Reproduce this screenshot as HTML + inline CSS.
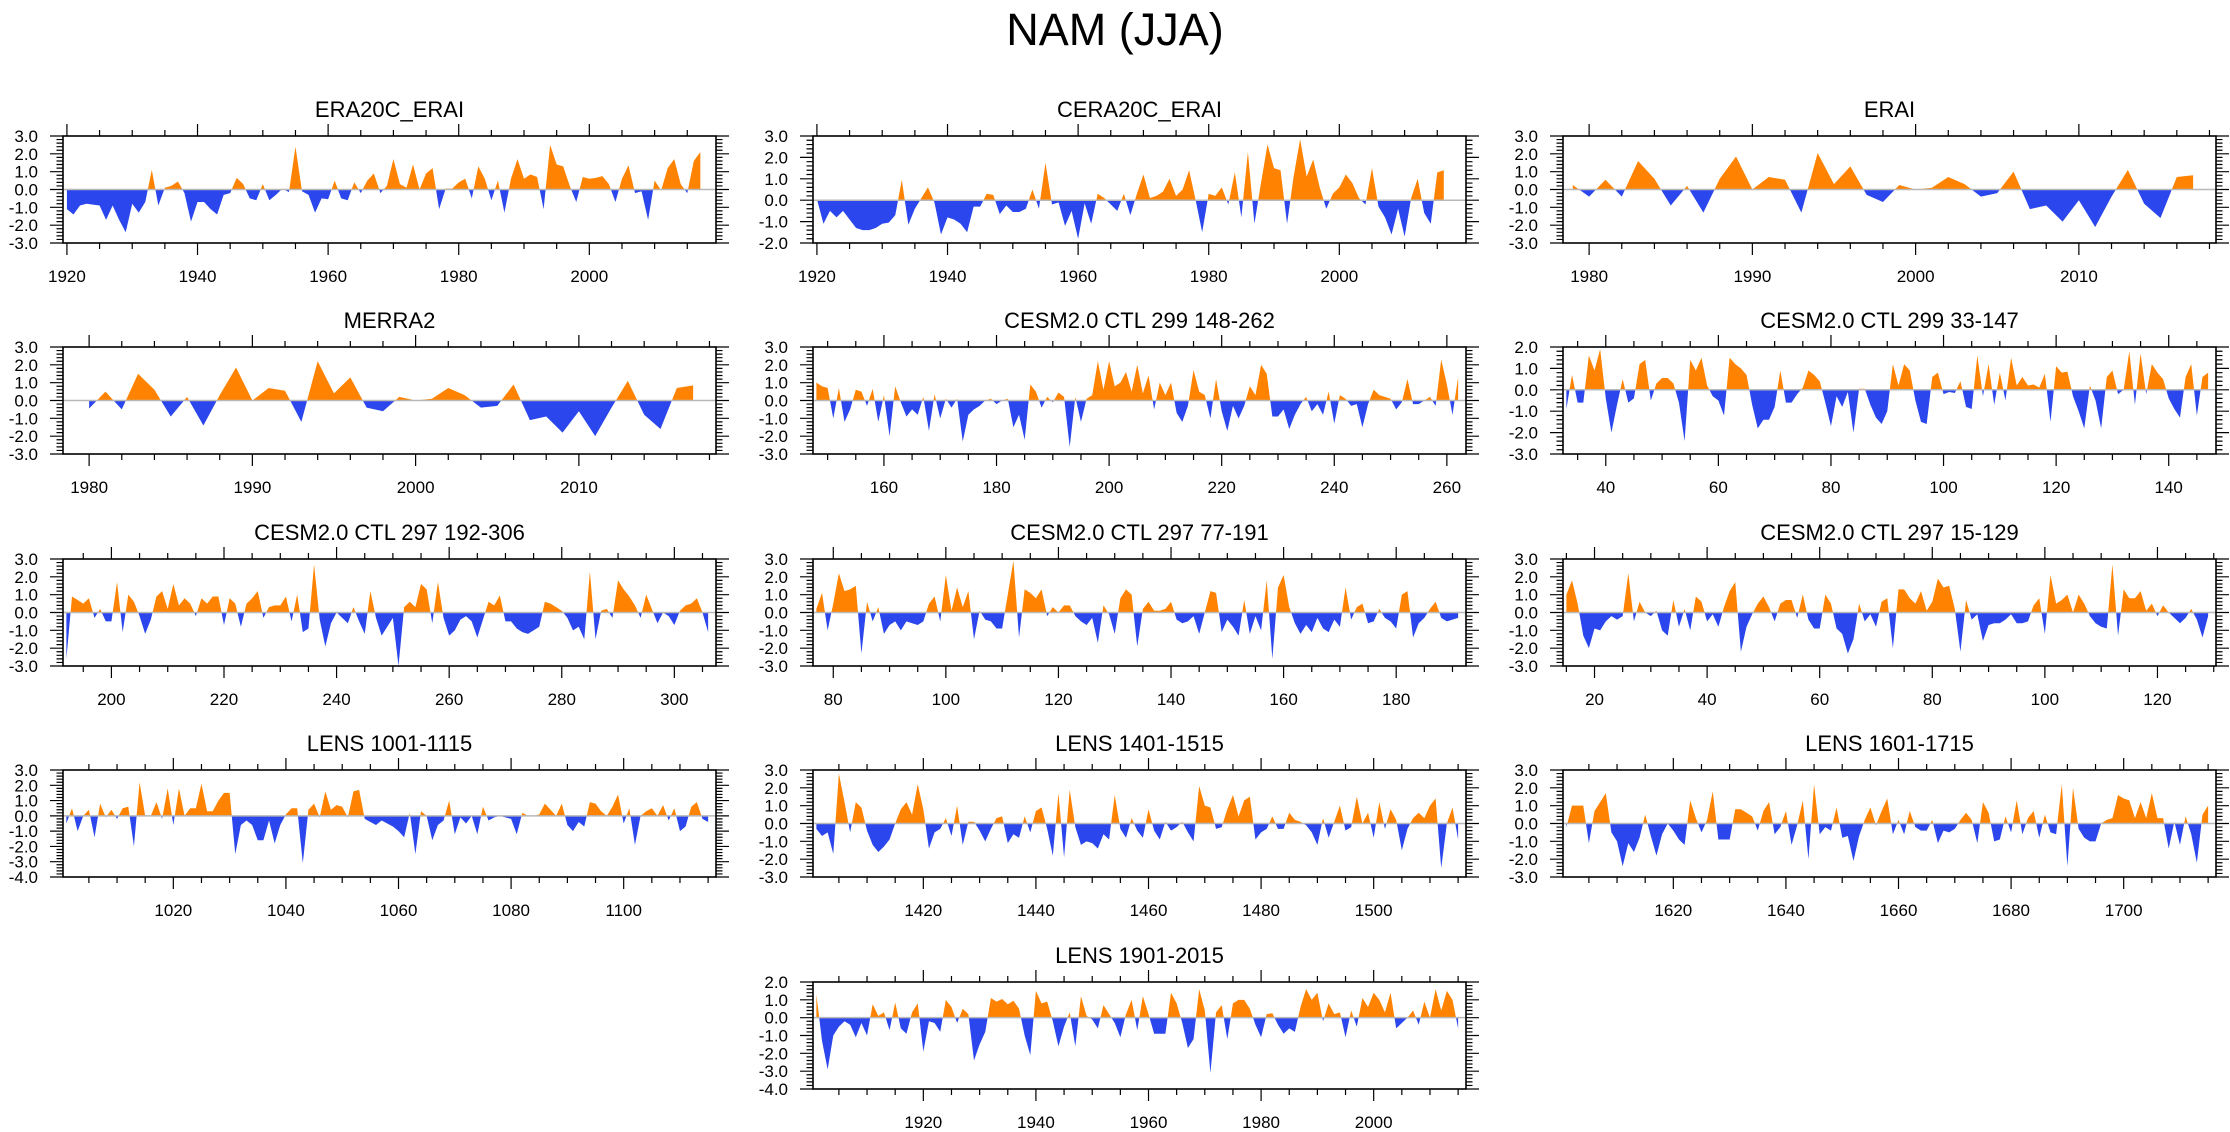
<!DOCTYPE html>
<html><head><meta charset="utf-8">
<style>
html,body{margin:0;padding:0;background:#fff;}
svg{display:block;font-family:"Liberation Sans",Arial,sans-serif;}
</style></head>
<body>
<svg id="chart" width="2230" height="1132" viewBox="0 0 2230 1132" xmlns="http://www.w3.org/2000/svg">
<rect width="2230" height="1132" fill="#fff"/>
<text x="1115" y="45" font-size="45" text-anchor="middle">NAM (JJA)</text>
</svg>
<script>
const era20cValues=[-1.1,-1.4,-0.9,-0.8,-0.85,-0.9,-1.7,-0.9,-1.7,-2.4,-0.8,-1.3,-0.7,1.1,-0.9,0.1,0.2,0.45,-0.2,-1.8,-0.7,-0.7,-1.1,-1.4,-0.3,-0.2,0.65,0.3,-0.5,-0.6,0.3,-0.6,-0.3,0.05,-0.15,2.4,-0.1,-0.3,-1.3,-0.5,-0.55,0.5,-0.5,-0.6,0.4,-0.2,0.5,0.9,-0.2,0.2,1.7,0.3,0.1,1.4,0.0,0.9,1.2,-1.1,0.05,0.05,0.4,0.6,-0.5,1.3,0.6,-0.6,0.5,-1.3,0.6,1.7,0.6,0.85,0.7,-1.1,2.5,1.4,1.3,0.2,-0.7,0.7,0.6,0.65,0.75,0.3,-0.7,0.6,1.35,-0.2,-0.1,-1.7,0.5,-0.05,1.2,1.7,0.3,-0.2,1.6,2.1];
const cera20cValues=[0.05,-1.1,-0.5,-0.8,-0.5,-0.9,-1.3,-1.4,-1.4,-1.3,-1.1,-1.05,-0.7,0.95,-1.15,-0.4,0.1,0.6,-0.1,-1.6,-0.8,-0.9,-1.1,-1.5,-0.3,-0.3,0.3,0.25,-0.65,-0.25,-0.55,-0.55,-0.4,0.5,-0.4,1.75,-0.2,-0.1,-1.2,-0.5,-1.8,-0.15,-1.1,0.3,0.1,-0.2,-0.5,0.3,-0.7,0.3,1.2,0.1,0.2,0.4,1.0,0.2,0.5,1.4,0.0,-1.5,0.3,0.2,0.6,-0.2,1.3,-0.8,2.25,-1.1,0.8,2.6,1.5,1.4,-1.1,1.1,2.85,1.1,1.9,0.6,-0.4,0.3,0.6,1.2,0.8,0.1,-0.2,1.5,-0.3,-0.8,-1.6,-0.4,-1.7,0.1,1.0,-0.6,-1.1,1.3,1.4];
const eraiValues=[0.25,-0.4,0.55,-0.4,1.6,0.6,-0.9,0.2,-1.3,0.6,1.85,0.0,0.7,0.55,-1.3,2.05,0.3,1.3,-0.3,-0.7,0.25,0.0,0.1,0.7,0.3,-0.4,-0.2,1.0,-1.1,-0.9,-1.8,-0.6,-2.1,-0.4,1.1,-0.8,-1.6,0.7,0.8];
const merra2Values=[-0.45,0.5,-0.5,1.5,0.6,-0.9,0.2,-1.4,0.3,1.85,0.0,0.7,0.55,-1.2,2.2,0.4,1.3,-0.4,-0.6,0.2,0.0,0.1,0.7,0.3,-0.4,-0.3,0.9,-1.1,-0.9,-1.8,-0.6,-2.0,-0.4,1.1,-0.8,-1.6,0.7,0.85];
const ctl299aValues=[1.0,0.8,0.7,-1.0,0.7,-1.2,-0.5,0.6,0.5,-0.3,0.65,-1.2,0.3,-2.0,0.8,-0.1,-0.9,-0.5,-0.8,0.2,-1.7,0.35,-1.0,0.1,-0.4,0.1,-2.3,-0.8,-0.5,-0.3,0.0,0.1,-0.2,0.0,0.1,-1.5,-0.8,-2.2,0.9,0.5,-0.4,0.2,-0.1,0.45,0.2,-2.6,0.2,-1.2,0.1,0.3,2.2,0.6,2.2,0.8,1.0,1.6,0.5,2.0,0.4,1.4,-0.5,1.0,0.3,1.0,-0.7,-1.2,-0.3,1.7,0.5,0.3,-1.0,1.2,-0.6,-1.7,-0.3,-1.0,-0.3,0.8,0.3,2.0,1.5,-0.9,-0.9,-0.5,-1.6,-0.8,-0.2,0.2,-0.6,-0.2,-0.8,0.5,-1.3,0.3,0.1,-0.3,-0.2,-1.5,-0.2,0.6,0.3,0.2,0.1,-0.5,-0.1,1.2,-0.2,-0.2,0.0,0.2,-0.3,2.3,0.9,-0.8,1.3];
const ctl299bValues=[-0.9,0.7,-0.6,-0.6,1.6,0.9,1.9,-0.4,-2.0,-0.7,0.5,-0.6,-0.4,1.2,1.4,-0.5,0.3,0.55,0.55,0.3,-0.6,-2.4,1.4,0.9,1.5,0.2,-0.3,-0.5,-1.2,1.5,1.2,1.0,0.7,-0.7,-1.8,-1.4,-1.4,-0.8,0.9,-0.6,-0.6,-0.2,0.1,0.9,0.7,0.4,-0.6,-1.7,-0.3,-0.8,-0.1,-2.0,0.05,0.05,-0.7,-1.3,-1.6,-1.0,1.2,0.2,1.2,0.9,-0.5,-1.5,-1.6,0.6,0.8,-0.2,-0.1,-0.15,0.4,-0.8,-0.9,1.6,-0.3,1.2,-0.7,0.8,-0.5,1.5,0.2,0.6,0.2,0.25,0.1,0.75,-1.5,1.1,0.8,0.85,-0.3,-1.0,-1.8,0.2,-0.5,-1.8,0.6,0.9,-0.2,0.0,1.8,-0.7,1.7,-0.2,1.2,0.8,0.5,-0.4,-0.9,-1.3,0.6,1.2,-1.2,0.6,0.8];
const ctl297aValues=[-2.6,0.9,0.7,0.5,0.8,-0.3,0.2,-0.5,-0.5,1.7,-1.1,1.0,0.6,-0.2,-1.2,-0.4,0.9,1.2,0.2,1.6,0.4,0.8,0.5,-0.2,0.8,0.5,0.9,0.9,-0.7,0.8,0.5,-0.8,0.5,0.8,1.2,-0.3,0.3,0.4,0.4,0.9,-0.5,1.0,-1.1,-0.9,2.7,-0.4,-1.9,-0.6,0.0,-0.3,-0.6,0.3,-0.5,-1.2,1.2,-0.3,-1.3,-0.8,-0.3,-3.0,0.3,0.6,0.3,1.6,1.3,-0.6,1.7,-0.3,-1.3,-1.0,-0.4,-0.2,-0.5,-1.4,-0.4,0.6,0.4,0.95,-0.5,-0.5,-0.9,-1.1,-1.2,-1.0,-0.8,0.6,0.5,0.3,0.1,-0.3,-1.0,-0.8,-1.5,2.3,-1.5,0.1,0.2,-0.3,1.8,1.3,0.9,0.4,-0.3,1.0,0.2,-0.6,0.0,-0.2,-0.7,0.1,0.4,0.5,0.8,0.0,-1.1];
const ctl297bValues=[0.2,1.1,-1.0,0.5,2.2,1.2,1.3,1.5,-2.3,0.6,-0.5,0.3,-1.2,-0.7,-0.5,-1.0,-0.5,-0.6,-0.7,-0.5,0.5,0.9,-0.5,2.1,0.1,1.4,0.3,1.2,-1.5,0.1,-0.4,-0.5,-0.9,-0.9,1.0,2.9,-1.4,1.3,1.1,0.8,1.3,-0.2,0.3,0.0,0.4,0.4,-0.2,-0.5,-0.7,-0.3,-1.7,0.4,-0.1,-1.2,0.8,1.3,1.0,-1.9,0.2,0.6,0.1,0.1,0.2,0.6,-0.4,-0.6,-0.5,-0.2,-1.2,0.0,1.2,1.1,-1.1,-0.4,-0.8,-1.3,0.7,-1.2,-0.2,-1.0,1.8,-2.6,1.4,2.1,0.3,-0.6,-1.2,-0.7,-1.1,-0.3,-0.9,-1.1,-0.4,-0.8,1.4,-0.4,0.3,0.5,-0.6,-0.5,0.2,-0.3,-0.5,-0.9,1.0,1.2,-1.4,-0.6,-0.3,0.2,0.6,-0.3,-0.5,-0.4,-0.3];
const ctl297cValues=[1.0,1.8,0.5,-1.3,-2.0,-0.9,-1.0,-0.5,-0.2,-0.4,-0.2,2.2,-0.5,0.6,0.0,-0.2,0.1,-1.0,-1.3,0.7,-0.8,0.2,-1.0,0.9,0.6,-0.5,-0.1,-0.8,0.3,1.2,1.7,-2.2,-0.8,-0.1,0.5,0.9,0.3,-0.5,0.5,0.7,0.7,-0.3,1.0,-0.4,-0.9,-0.9,1.0,0.5,-0.9,-1.2,-2.3,-1.5,0.5,-0.5,-0.1,-0.8,0.6,0.8,-2.0,1.3,1.3,0.8,0.5,1.2,0.1,0.6,1.9,1.4,1.5,0.2,-2.2,0.7,-0.4,-0.1,-1.6,-0.7,-0.6,-0.6,-0.4,-0.1,-0.6,-0.6,-0.5,0.4,0.8,-1.2,2.1,0.5,0.7,1.0,0.0,1.0,0.5,-0.2,-0.6,-0.8,-0.9,2.7,-1.3,1.3,0.8,0.8,1.2,0.1,0.5,-0.2,0.4,0.0,-0.3,-0.6,-0.3,0.2,-0.4,-1.4,-0.2];
const lens1001Values=[-0.5,0.5,-1.0,0.0,0.4,-1.4,0.8,-0.1,0.4,-0.2,0.5,0.6,-2.0,2.2,0.0,0.0,0.9,-0.2,1.8,-0.6,1.8,0.0,0.5,0.5,2.1,0.3,0.3,1.0,1.5,1.5,-2.5,-0.6,-0.3,-0.6,-1.6,-1.6,-0.3,-1.8,-0.6,0.1,0.5,0.5,-3.1,0.4,0.8,-0.1,1.6,0.4,0.7,0.6,-0.1,1.6,1.7,-0.2,-0.4,-0.6,-0.3,-0.5,-0.7,-1.0,-1.4,0.2,-2.5,0.3,0.0,-1.6,-0.6,-0.3,1.0,-1.2,-0.1,-0.5,0.0,-1.2,0.6,-0.3,-0.1,0.0,-0.1,-0.2,-1.2,0.2,0.0,0.0,0.1,0.8,0.4,0.0,0.8,-0.6,-1.0,-0.4,-0.7,0.9,0.8,0.3,0.0,0.6,1.4,-0.5,0.5,-1.9,0.0,0.3,0.5,0.0,0.7,-0.3,0.5,-1.0,-0.7,0.6,0.9,-0.2,-0.4];
const lens1401Values=[-0.3,-0.7,-0.5,-1.7,2.8,1.2,-0.5,1.2,0.9,-0.4,-1.2,-1.6,-1.3,-0.9,0.0,0.8,1.2,0.5,2.2,0.8,-1.4,-0.5,-0.3,0.3,-0.7,1.0,-1.2,0.1,0.1,-0.4,-1.0,-0.3,0.3,0.4,-1.1,-0.6,-0.8,0.4,-0.5,0.7,0.9,-0.3,-1.8,1.7,-1.9,1.9,-0.2,-1.2,-1.0,-1.1,-1.4,-0.6,-0.9,1.6,-0.3,-0.8,0.3,-0.4,-0.8,0.8,-0.4,-0.9,0.1,-0.4,-0.2,0.1,-0.5,-1.0,2.1,1.0,0.9,-0.3,-0.2,0.8,1.6,0.4,1.3,1.5,-0.9,-0.5,-0.3,0.4,-0.3,-0.3,0.6,0.2,0.1,-0.1,-0.5,-1.2,0.3,-0.8,0.1,1.0,-0.4,-0.2,1.5,0.0,0.6,-0.8,1.2,-0.3,0.8,0.2,-1.5,-0.3,0.3,0.6,0.3,1.0,1.4,-2.5,0.0,0.9,-0.9];
const lens1601Values=[-0.2,1.0,1.0,1.0,-1.1,0.7,1.2,1.7,-0.5,-1.0,-2.4,-1.1,-1.6,-0.8,0.5,-0.7,-1.8,-0.6,0.0,-0.4,-0.9,-1.2,1.3,0.3,-0.5,0.2,1.8,-0.9,-0.9,-0.9,0.8,0.8,0.6,0.4,-0.4,0.7,1.2,-0.6,-0.2,0.7,-1.2,-0.1,1.3,-2.0,2.2,-0.6,-0.2,-0.4,0.9,-0.8,-0.7,-2.1,-0.7,0.2,0.9,-0.1,0.7,1.4,-0.6,0.2,-0.6,0.7,-0.2,-0.4,-0.4,0.2,-1.1,-0.4,-0.5,-0.3,0.2,0.6,0.2,-1.1,1.2,0.6,-1.0,-0.9,0.4,-0.5,1.3,-0.6,0.3,0.7,-0.8,0.5,-0.5,-0.6,2.2,-2.4,2.0,-0.3,-0.8,-1.0,-1.0,0.0,0.2,0.3,1.6,1.4,1.3,0.3,1.2,0.3,1.7,0.3,0.3,-1.4,0.1,-1.2,0.4,-0.6,-2.2,0.5,1.0];
const lens1901Values=[1.3,-1.3,-2.9,-1.0,-0.5,-0.2,-0.4,-1.1,-0.3,-1.0,0.75,0.1,0.3,-0.7,0.85,-0.6,-0.9,0.3,0.8,-1.9,-0.2,-0.3,-0.8,1.0,0.6,-0.3,0.5,0.2,-2.4,-1.5,-0.8,1.1,0.9,1.05,0.75,0.95,0.5,-1.0,-2.1,1.5,0.8,0.9,-0.2,-1.6,-0.5,0.3,-1.6,1.2,0.1,-0.1,-0.6,0.7,0.2,-0.3,-1.1,0.2,1.0,-0.7,1.2,0.2,-0.9,-0.9,-0.9,1.4,0.8,-0.3,-1.7,-1.2,1.6,0.4,-3.1,0.3,0.7,-1.2,0.8,1.0,1.0,0.5,-0.4,-1.1,0.2,0.25,-0.4,-0.9,-0.6,-0.8,0.6,1.6,1.0,1.4,-0.2,0.8,0.2,0.3,-1.1,0.4,-0.5,1.1,0.6,1.4,1.0,0.3,1.4,-0.6,-0.3,0.0,0.4,-0.4,0.9,0.0,1.6,0.4,1.5,1.0,-0.6];

const panelTitles=["ERA20C_ERAI","CERA20C_ERAI","ERAI","MERRA2","CESM2.0 CTL 299 148-262","CESM2.0 CTL 299 33-147","CESM2.0 CTL 297 192-306","CESM2.0 CTL 297 77-191","CESM2.0 CTL 297 15-129","LENS 1001-1115","LENS 1401-1515","LENS 1601-1715","LENS 1901-2015"];
const panelSeries=[era20cValues,cera20cValues,eraiValues,merra2Values,ctl299aValues,ctl299bValues,ctl297aValues,ctl297bValues,ctl297cValues,lens1001Values,lens1401Values,lens1601Values,lens1901Values];
const panelStartYears=[1920,1920,1979,1980,148,33,192,77,15,1001,1401,1601,1901];
const panelYMin=[-3,-2,-3,-3,-3,-3,-3,-3,-3,-4,-3,-3,-4];
const panelYMax=[3,3,3,3,3,2,3,3,3,3,3,3,2];
const panelXMin=[1919.4,1919.4,1978.4,1978.4,147.4,32.4,191.4,76.4,14.4,1000.4,1400.4,1600.4,1900.4];
const panelXMax=[2019.4,2019.4,2018.4,2018.4,263.4,148.4,307.4,192.4,130.4,1116.4,1516.4,1716.4,2016.4];
const panelMajorStep=[20,20,10,10,20,20,20,20,20,20,20,20,20];
const panelMinorStep=[5,5,2,2,5,5,5,5,5,5,5,5,5];

const NS="http://www.w3.org/2000/svg";
const svg=document.getElementById('chart');
const colLeft=[63,813,1563], rowTop=[136,347,559,770,982];
const W=653,H=107;
const ORANGE="#ff8300", BLUE="#2a46ec";
function mk(tag,attrs,parent){const e=document.createElementNS(NS,tag);for(const k in attrs)e.setAttribute(k,attrs[k]);(parent||svg).appendChild(e);return e;}

panelTitles.forEach((title,p)=>{
  const col = p===12 ? 1 : p%3;
  const row = Math.floor(p/3);
  const L=colLeft[col], T=rowTop[row];
  const vals=panelSeries[p], start=panelStartYears[p];
  const x0=panelXMin[p], x1=panelXMax[p], y0=panelYMin[p], y1=panelYMax[p];
  const xs=v=>L+(v-x0)/(x1-x0)*W;
  const ys=v=>T+H-(v-y0)/(y1-y0)*H;
  const g=mk('g',{});
  
  
  const t=mk('text',{x:L+W/2,y:T-19,'font-size':22,'text-anchor':'middle'},g);
  t.textContent=title;
  
  
  const zy=ys(0);
  let d='M'+xs(start).toFixed(2)+','+zy.toFixed(2);
  vals.forEach((v,i)=>{d+=' L'+xs(start+i).toFixed(2)+','+ys(v).toFixed(2);});
  d+=' L'+xs(start+vals.length-1).toFixed(2)+','+zy.toFixed(2)+' Z';
  const cu='cu'+p, cl='cl'+p;
  const defs=mk('defs',{},g);
  const c1=mk('clipPath',{id:cu},defs); mk('rect',{x:L,y:T,width:W,height:zy-T},c1);
  const c2=mk('clipPath',{id:cl},defs); mk('rect',{x:L,y:zy,width:W,height:T+H-zy},c2);
  const pos=mk('path',{d:d,fill:ORANGE,'clip-path':'url(#'+cu+')'},g);
  
  
  const neg=mk('path',{d:d,fill:BLUE,'clip-path':'url(#'+cl+')'},g);
  
  
  const zl=mk('line',{x1:L,x2:L+W,y1:zy,y2:zy,stroke:'#b8b8b8','stroke-width':1.5},g);
  
  
  const box=mk('rect',{x:L,y:T,width:W,height:H,fill:'none',stroke:'#000','stroke-width':1.6},g);
  
  
  let tp='';
  for(let k=Math.round(y0*5);k<=Math.round(y1*5);k++){
    const v=k/5, y=ys(v), major=(k%5===0), len=major?13:6.5;
    tp+=`M${L},${y.toFixed(2)}h${-len}M${L+W},${y.toFixed(2)}h${len}`;
    if(major){
      const lb=mk('text',{x:L-25,y:y+6,'font-size':17,'text-anchor':'end'},g);
      lb.textContent=v.toFixed(1);
      
      
    }
  }
  const mj=panelMajorStep[p], mn=panelMinorStep[p];
  for(let yr=Math.ceil(x0/mn)*mn; yr<=x1; yr+=mn){
    const x=xs(yr), major=(yr%mj===0), len=major?12:6;
    tp+=`M${x.toFixed(2)},${T+H}v${len}M${x.toFixed(2)},${T}v${-len}`;
    if(major){
      const lb=mk('text',{x:x,y:T+H+39,'font-size':17,'text-anchor':'middle'},g);
      lb.textContent=yr;
      
      
    }
  }
  const ticks=mk('path',{d:tp,stroke:'#000','stroke-width':1.2,fill:'none'},g);
  
  
});
</script>
</body></html>
